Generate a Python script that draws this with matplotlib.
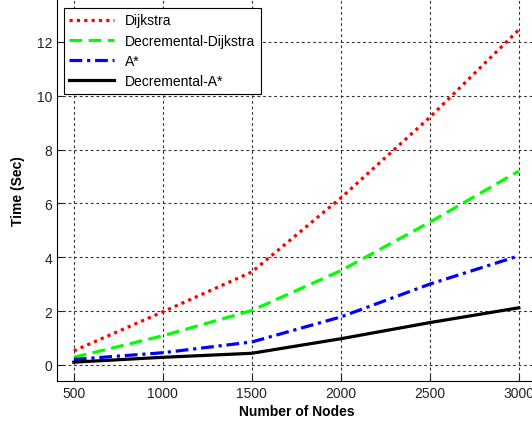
import matplotlib
matplotlib.use("Agg")
import matplotlib.pyplot as plt

plt.rcParams['font.family'] = ['Liberation Sans', 'DejaVu Sans']

nodes = [500, 1000, 1500, 2000, 2500, 3000]
dijkstra = [0.52, 1.97, 3.45, 6.2, 9.2, 12.45]
dec_dijkstra = [0.28, 1.08, 2.02, 3.5, 5.3, 7.2]
astar = [0.2, 0.45, 0.85, 1.78, 3.0, 4.05]
dec_astar = [0.1, 0.28, 0.43, 0.97, 1.57, 2.12]

xticks = [500, 1000, 1500, 2000, 2500, 3000]
yticks = [0, 2, 4, 6, 8, 10, 12]

fig = plt.figure(figsize=(5.32, 4.27), dpi=100)
ax = fig.add_axes([0.107, 0.1054, 0.9, 0.895])

ax.plot(nodes, dijkstra, color='#ff0000', lw=2.3, linestyle=(0, (1, 1.3)), label='Dijkstra')
ax.plot(nodes, dec_dijkstra, color='#00ff00', lw=2.3, linestyle=(0, (4, 2)), label='Decremental-Dijkstra')
ax.plot(nodes, astar, color='#0000ff', lw=2.3, linestyle=(0, (4, 1.5, 1, 1.5)), label='A*')
ax.plot(nodes, dec_astar, color='black', lw=2.3, linestyle='-', label='Decremental-A*')

ax.set_xlim(405, 3095)
ax.set_ylim(-0.6, 13.6)
ax.set_xticks(xticks)
ax.set_yticks(yticks)
ax.tick_params(direction='in', labelsize=10, colors='#222222', length=4)
ax.grid(True, color='#333333', linestyle=(0, (2.5, 2.5)), lw=0.8)

ax.set_xlabel('Number of Nodes', fontsize=10, fontweight='bold', labelpad=3)
ax.set_ylabel('Time (Sec)', fontsize=10, fontweight='bold', labelpad=8)

leg = ax.legend(loc='upper left', bbox_to_anchor=(7/479, 1 - 9/382), borderaxespad=0,
                fontsize=10, handlelength=3.2, fancybox=False, framealpha=1,
                edgecolor='black', labelspacing=0.45)
leg.get_frame().set_linewidth(0.8)

fig.savefig('out.png', dpi=100)
